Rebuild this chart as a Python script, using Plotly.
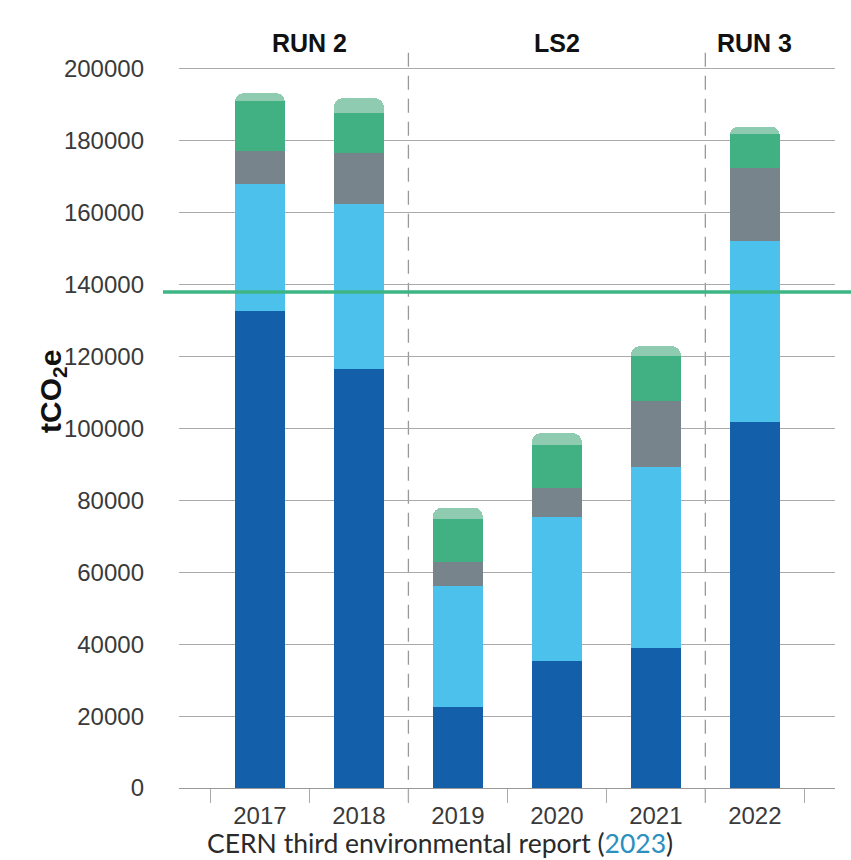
import plotly.graph_objects as go

years = ["2017", "2018", "2019", "2020", "2021", "2022"]
seg_a = [132700, 116600, 22500, 35300, 38900, 101800]   # dark blue
seg_b = [35300, 45800, 33700, 40200, 50300, 50400]      # light blue
seg_c = [9200, 14100, 6600, 7900, 18500, 20300]         # grey
seg_d = [13900, 11300, 12000, 12000, 12500, 9300]       # green
seg_e = [2200, 4100, 3200, 3300, 2700, 2200]            # light green
target = 138000
y_ticks = [0, 20000, 40000, 60000, 80000, 100000, 120000, 140000, 160000, 180000, 200000]
periods = [("RUN 2", 0.5), ("LS2", 3), ("RUN 3", 5)]
dividers = [1.5, 4.5]

colors = ["#135FA9", "#4BC1EC", "#78848C", "#41B083", "#8FCBB0"]
series = [seg_a, seg_b, seg_c, seg_d, seg_e]
names = ["A", "B", "C", "D", "E"]

fig = go.Figure()
for s, c, n in zip(series, colors, names):
    fig.add_trace(go.Bar(x=years, y=s, name=n, marker=dict(color=c, line=dict(width=0)),
                         showlegend=False))

fig.update_layout(
    barmode="stack", bargap=0.495, barcornerradius=9,
    width=851, height=860,
    margin=dict(l=179, r=16, t=48, b=72),
    paper_bgcolor="white", plot_bgcolor="white",
    font=dict(family="Liberation Sans, Arial, sans-serif", color="#3a3a3a"),
)
fig.update_xaxes(
    type="category", range=[-0.818, 5.81], tickson="boundaries",
    ticks="outside", ticklen=14, tickcolor="#aaa", tickwidth=1.2,
    showline=True, linecolor="#999", linewidth=1.2, showgrid=False,
    ticklabelstandoff=6,
    tickfont=dict(size=24, color="#3a3a3a"),
)
fig.update_yaxes(
    range=[0, 205840], tickvals=y_ticks, ticktext=[str(v) for v in y_ticks],
    showgrid=True, gridcolor="#aaa", gridwidth=1.3, zeroline=False,
    ticks="", ticklabelstandoff=34, tickfont=dict(size=24, color="#3a3a3a"),
)

for d in dividers:
    fig.add_shape(type="line", xref="x", yref="paper", x0=d, x1=d, y0=-0.02, y1=1.0,
                  line=dict(color="#999", width=1.3, dash="14px,9px"), layer="below")

fig.add_shape(type="line", xref="paper", yref="y", x0=-0.0244, x1=1.03, y0=target, y1=target,
              line=dict(color="#3DB584", width=3.5))

for label, xpos in periods:
    fig.add_annotation(x=xpos, xref="x", y=1.0061, yref="paper", text=f"<b>{label}</b>",
                       showarrow=False, yanchor="middle",
                       font=dict(family="Liberation Sans, Arial, sans-serif", size=25, color="#111"))

fig.add_annotation(x=-0.224, xref="paper", y=0.536, yref="paper", text="<b>tCO<sub>2</sub>e</b>",
                   textangle=-90, showarrow=False,
                   font=dict(family="Liberation Sans, Arial, sans-serif", size=30, color="#111"))

fig.add_annotation(x=0.398, xref="paper", y=-0.074, yref="paper",
                   text="CERN third environmental report (<span style='color:#2b8fc0'>2023</span>)",
                   showarrow=False, yanchor="middle",
                   font=dict(family="Lato, sans-serif", size=26.5, color="#2a2a2a"))

fig.write_html("out.html")
